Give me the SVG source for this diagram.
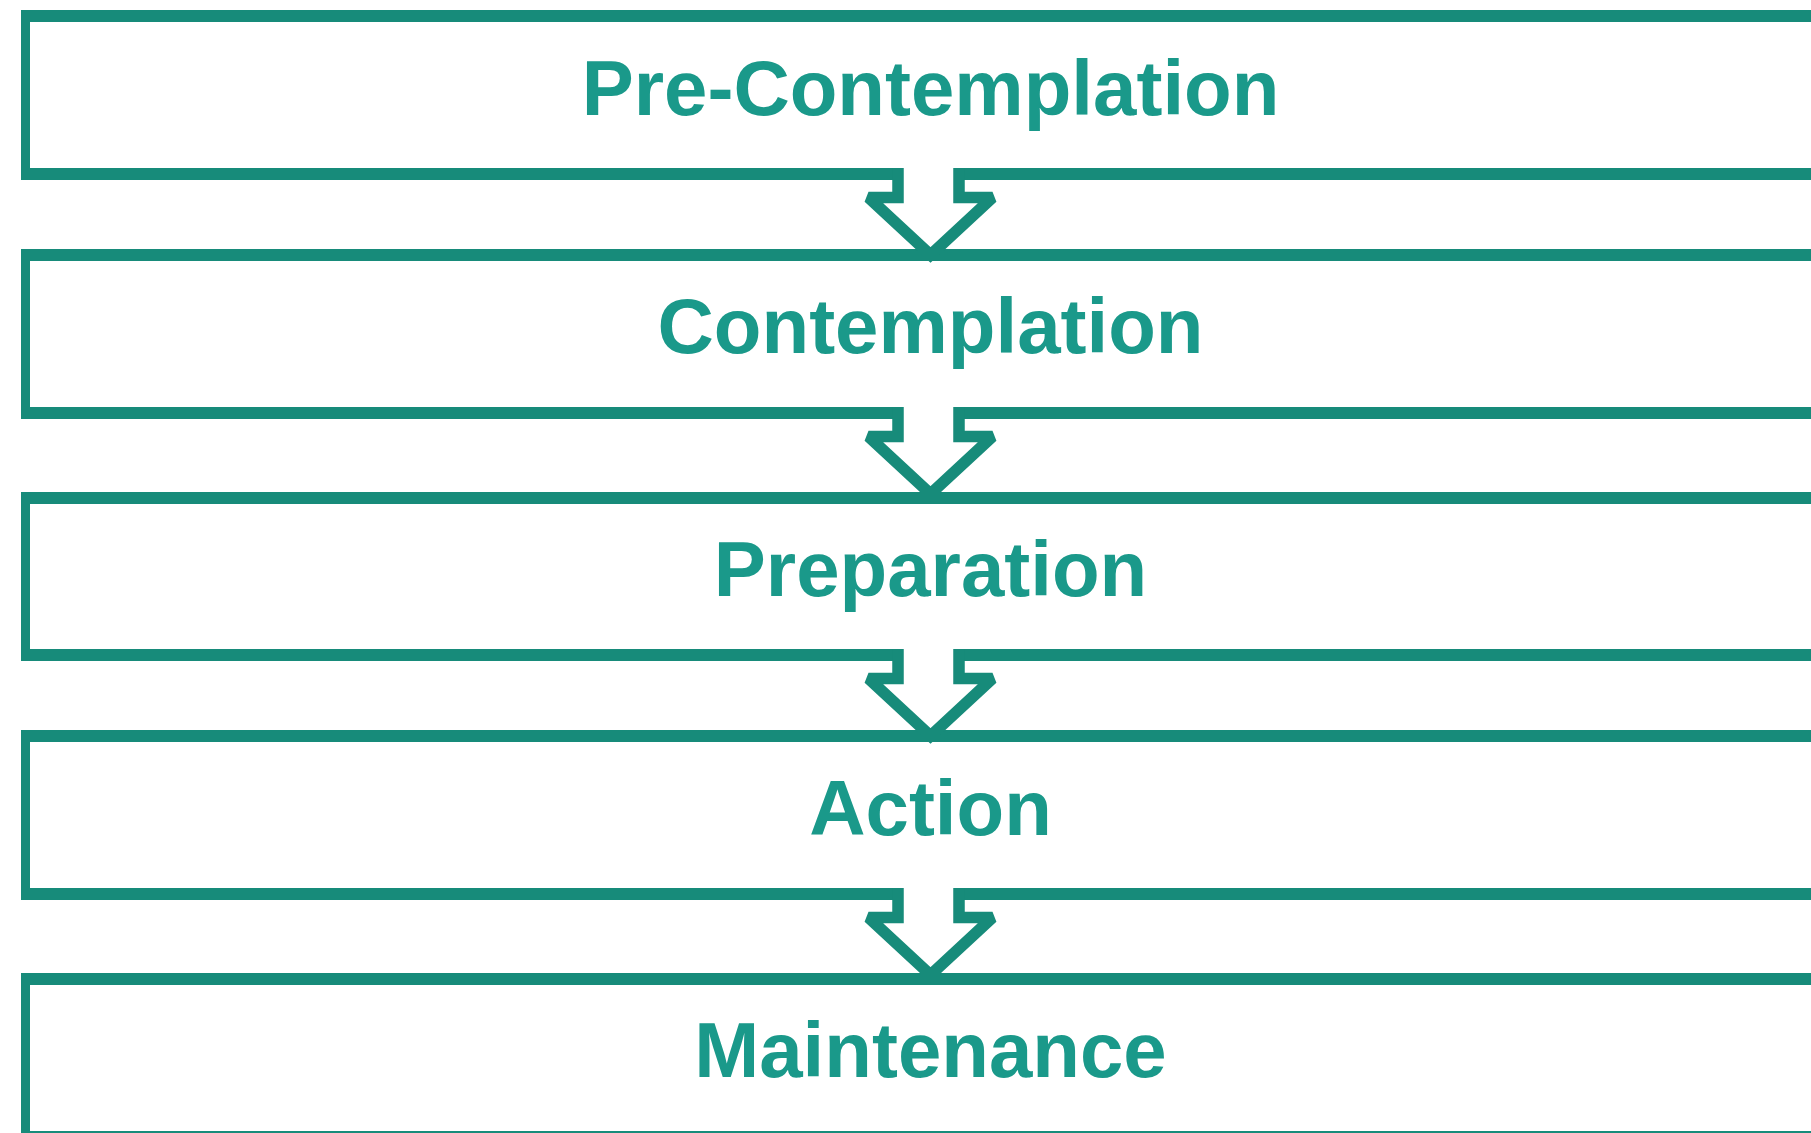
<svg xmlns="http://www.w3.org/2000/svg" width="1811" height="1133" viewBox="0 0 1811 1133">
<style>
.box{fill:#178b7a;fill-rule:evenodd;stroke:none}
.lbl{font-family:"Liberation Sans",Arial,sans-serif;font-weight:bold;font-size:78px;fill:#1a998a;text-anchor:middle}
.afill{fill:#ffffff;stroke:none}
.aline{fill:none;stroke:#178b7a;stroke-width:11.5;stroke-linejoin:miter;stroke-miterlimit:2}
</style>
<rect x="0" y="0" width="1811" height="1133" fill="#ffffff"/>
<g id="node-precontemplation">
<path class="box" d="M21,10 H1830 V180 H21 Z M30,22 V168 H1830 V22 Z"/>
<text class="lbl" x="930.5" y="115">Pre-Contemplation</text>
</g>
<g id="node-contemplation">
<path class="box" d="M21,249 H1830 V419 H21 Z M30,261 V407 H1830 V261 Z"/>
<text class="lbl" x="930.5" y="353">Contemplation</text>
</g>
<g id="node-preparation">
<path class="box" d="M21,492 H1830 V661 H21 Z M30,504 V649 H1830 V504 Z"/>
<text class="lbl" x="930.5" y="596">Preparation</text>
</g>
<g id="node-action">
<path class="box" d="M21,730 H1830 V900 H21 Z M30,742 V888 H1830 V742 Z"/>
<text class="lbl" x="930.5" y="835">Action</text>
</g>
<g id="node-maintenance">
<path class="box" d="M21,973 H1830 V1143 H21 Z M30,985 V1131 H1830 V985 Z"/>
<text class="lbl" x="930.5" y="1077">Maintenance</text>
</g>
<g id="connectors">
<g id="arrow-1" transform="translate(0,168)">
<path class="afill" d="M898,-1 V29.5 H868.5 L930.5,87 L992.5,29.5 H959 V-1 Z"/>
<path class="aline" d="M898,0 V29.5 H868.5 L930.5,87 L992.5,29.5 H959 V0"/>
</g>
<g id="arrow-2" transform="translate(0,407)">
<path class="afill" d="M898,-1 V29.5 H868.5 L930.5,87 L992.5,29.5 H959 V-1 Z"/>
<path class="aline" d="M898,0 V29.5 H868.5 L930.5,87 L992.5,29.5 H959 V0"/>
</g>
<g id="arrow-3" transform="translate(0,649)">
<path class="afill" d="M898,-1 V29.5 H868.5 L930.5,87 L992.5,29.5 H959 V-1 Z"/>
<path class="aline" d="M898,0 V29.5 H868.5 L930.5,87 L992.5,29.5 H959 V0"/>
</g>
<g id="arrow-4" transform="translate(0,888)">
<path class="afill" d="M898,-1 V29.5 H868.5 L930.5,87 L992.5,29.5 H959 V-1 Z"/>
<path class="aline" d="M898,0 V29.5 H868.5 L930.5,87 L992.5,29.5 H959 V0"/>
</g>
</g>
</svg>
